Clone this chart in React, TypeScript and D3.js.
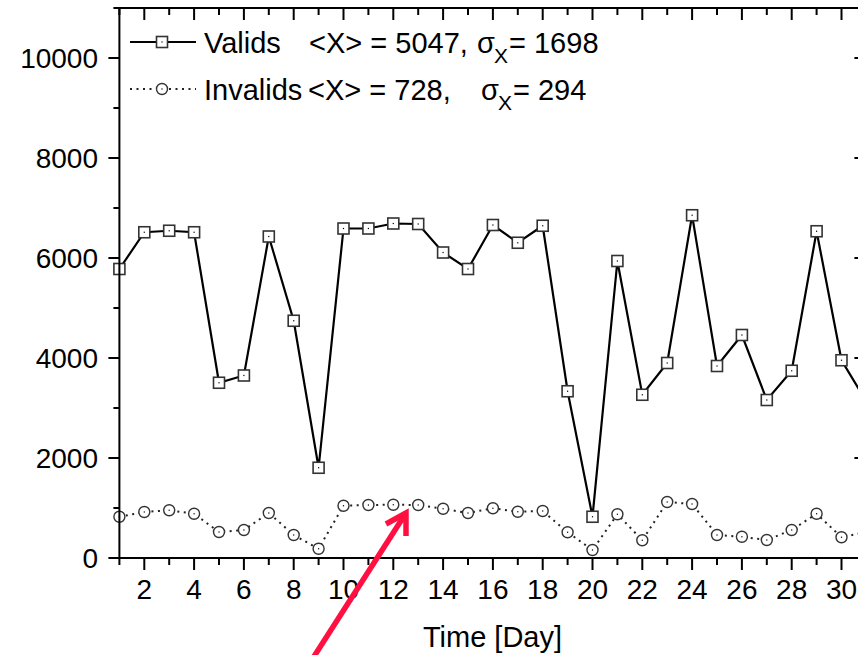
import React from 'react';
import * as d3 from 'd3';

// days 1..31 (the last day sits on the right frame, outside the cropped picture)
const days = d3.range(1, 32);
const valids = [
  5780, 6515, 6545, 6515, 3505, 3650, 6430, 4745, 1805, 6590,
  6590, 6690, 6680, 6110, 5780, 6660, 6305, 6645, 3335, 825,
  5940, 3265, 3900, 6855, 3840, 4460, 3160, 3745, 6535, 3955,
  3130,
];
const invalids = [
  825, 920, 955, 885, 520, 560, 900, 460, 185, 1045,
  1060, 1065, 1060, 985, 900, 995, 925, 940, 515, 160,
  875, 355, 1120, 1080, 460, 425, 360, 560, 885, 415,
  520,
];
const xMajor = [2, 4, 6, 8, 10, 12, 14, 16, 18, 20, 22, 24, 26, 28, 30];
const yMajor = [0, 2000, 4000, 6000, 8000, 10000];

const W = 858;
const H = 655;
const FONT = '"Liberation Sans", Arial, sans-serif';

const App: React.FC = () => {
  const x = d3.scaleLinear().domain([1, 31]).range([119.4, 866.4]);
  const y = d3.scaleLinear().domain([0, 11000]).range([558, 8]);
  const [left, right] = x.range();
  const [bottom, top] = y.range();

  const line = d3
    .line<number>()
    .x((_, i) => x(days[i]))
    .y(d => y(d));

  const xMinor = d3.range(1, 32).filter(d => !xMajor.includes(d));
  const yMinor = d3.range(1000, 11001, 2000);

  const square = (cx: number, cy: number, key: string) => (
    <g key={key}>
      <rect x={cx - 5.5} y={cy - 5.5} width={11} height={11} fill="#fff" stroke="#333" strokeWidth={1.6} />
      <rect x={cx - 0.6} y={cy - 0.6} width={1.2} height={1.2} fill="#000" />
    </g>
  );
  const circle = (cx: number, cy: number, key: string) => (
    <g key={key}>
      <circle cx={cx} cy={cy} r={5.5} fill="#fff" stroke="#333" strokeWidth={1.4} />
      <rect x={cx - 0.6} y={cy - 0.6} width={1.2} height={1.2} fill="#000" />
    </g>
  );

  return (
    <svg
      width={W}
      height={H}
      style={{ position: 'absolute', left: 0, top: 0, background: '#fff' }}
      fontFamily={FONT}
    >
      <rect width={W} height={H} fill="#fff" />

      {/* invalids: dotted */}
      <path d={line(invalids) ?? ''} fill="none" stroke="#222" strokeWidth={2} strokeDasharray="2,4.5" />
      {invalids.map((v, i) => circle(x(days[i]), y(v), `c${i}`))}

      {/* valids: solid */}
      <path d={line(valids) ?? ''} fill="none" stroke="#000" strokeWidth={2.2} />
      {valids.map((v, i) => square(x(days[i]), y(v), `s${i}`))}

      {/* frame */}
      <rect x={left} y={top} width={right - left} height={bottom - top} fill="none" stroke="#000" strokeWidth={2} />

      {/* x ticks, bottom (outward) and top (inward) */}
      {xMajor.map(d => (
        <g key={`xm${d}`} stroke="#000" strokeWidth={2}>
          <line x1={x(d)} x2={x(d)} y1={bottom} y2={bottom + 12} />
          <line x1={x(d)} x2={x(d)} y1={top} y2={top + 12} />
        </g>
      ))}
      {xMinor.map(d => (
        <g key={`xn${d}`} stroke="#000" strokeWidth={2}>
          <line x1={x(d)} x2={x(d)} y1={bottom} y2={bottom + 7} />
          <line x1={x(d)} x2={x(d)} y1={top} y2={top + 7} />
        </g>
      ))}
      {xMajor.map(d => (
        <text key={`xl${d}`} x={x(d)} y={599} textAnchor="middle" fontSize={28} fill="#000">
          {d}
        </text>
      ))}

      {/* y ticks, left (outward) and right (inward) */}
      {yMajor.map(v => (
        <g key={`ym${v}`} stroke="#000" strokeWidth={2}>
          <line x1={left - 11} x2={left} y1={y(v)} y2={y(v)} />
          <line x1={right - 12} x2={right} y1={y(v)} y2={y(v)} />
        </g>
      ))}
      {yMinor.map(v => (
        <g key={`yn${v}`} stroke="#000" strokeWidth={2}>
          <line x1={left - 6} x2={left} y1={y(v)} y2={y(v)} />
          <line x1={right - 7} x2={right} y1={y(v)} y2={y(v)} />
        </g>
      ))}
      {yMajor.map(v => (
        <text key={`yl${v}`} x={98} y={y(v)} dy="0.35em" textAnchor="end" fontSize={28} fill="#000">
          {v}
        </text>
      ))}

      <text x={492.5} y={647} textAnchor="middle" fontSize={29} fill="#000">
        Time [Day]
      </text>

      {/* legend */}
      <line x1={130} x2={196} y1={42} y2={42} stroke="#000" strokeWidth={2} />
      {square(162, 42, 'lg1')}
      <line x1={130} x2={196} y1={89} y2={89} stroke="#222" strokeWidth={2} strokeDasharray="2,4.5" />
      {circle(162, 89, 'lg2')}
      <g fontSize={29} fill="#000">
        <text x={204} y={53}>Valids</text>
        <text x={309} y={53}>{'<X> = 5047,'}</text>
        <text x={477} y={53}>σ</text>
        <text x={494} y={63} fontSize={21}>X</text>
        <text x={509} y={53}>= 1698</text>
        <text x={204} y={100}>Invalids</text>
        <text x={308} y={100}>{'<X> = 728,'}</text>
        <text x={481} y={100}>σ</text>
        <text x={498} y={110} fontSize={21}>X</text>
        <text x={513} y={100}>= 294</text>
      </g>

      {/* red arrow */}
      <g stroke="#ff1040" strokeWidth={5.5} strokeLinecap="butt" fill="none">
        <line x1={313} y1={658} x2={404} y2={516} />
        <polyline points="386,524 406,513 406,536" strokeLinejoin="miter" />
      </g>
    </svg>
  );
};

export default App;
